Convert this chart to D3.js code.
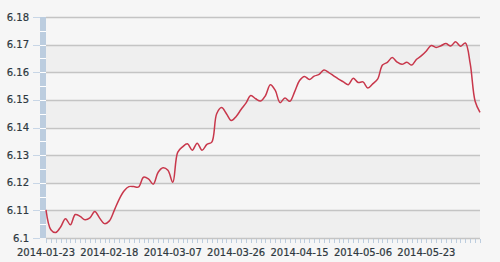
<!DOCTYPE html>
<html>
<head>
<meta charset="utf-8">
<script src="https://cdn.jsdelivr.net/npm/d3@7/dist/d3.min.js"></script>
<style>
  html, body { margin: 0; padding: 0; background: #f6f6f6; }
  svg { display: block; font-family: "DejaVu Sans", Verdana, sans-serif; }
</style>
</head>
<body>
<div id="chart"></div>
<script>
// trading days shown on the chart
const dates = [
  "2014-01-23","2014-01-24","2014-01-27","2014-01-28","2014-01-29","2014-01-30",
  "2014-02-07","2014-02-10","2014-02-11","2014-02-12","2014-02-13","2014-02-14","2014-02-17","2014-02-18",
  "2014-02-19","2014-02-20","2014-02-21","2014-02-24","2014-02-25","2014-02-26","2014-02-27","2014-02-28",
  "2014-03-03","2014-03-04","2014-03-05","2014-03-06","2014-03-07",
  "2014-03-10","2014-03-11","2014-03-12","2014-03-13","2014-03-14","2014-03-17","2014-03-18","2014-03-19",
  "2014-03-20","2014-03-21","2014-03-24","2014-03-25","2014-03-26",
  "2014-03-27","2014-03-28","2014-03-31","2014-04-01","2014-04-02","2014-04-03","2014-04-04","2014-04-08",
  "2014-04-09","2014-04-10","2014-04-11","2014-04-14","2014-04-15",
  "2014-04-16","2014-04-17","2014-04-18","2014-04-21","2014-04-22","2014-04-23","2014-04-24","2014-04-25",
  "2014-04-28","2014-04-29","2014-04-30","2014-05-05","2014-05-06",
  "2014-05-07","2014-05-08","2014-05-09","2014-05-12","2014-05-13","2014-05-14","2014-05-15","2014-05-16",
  "2014-05-19","2014-05-20","2014-05-21","2014-05-22","2014-05-23",
  "2014-05-26","2014-05-27","2014-05-28","2014-05-29","2014-05-30","2014-06-03","2014-06-04","2014-06-05",
  "2014-06-06","2014-06-09","2014-06-10"
];

const rates = [
  6.1102, 6.1030, 6.1020, 6.1040, 6.1070, 6.1048, 6.1085, 6.1078, 6.1066, 6.1073,
  6.1096, 6.1072, 6.1052, 6.1062, 6.1100, 6.1140, 6.1170, 6.1186, 6.1186, 6.1185,
  6.1220, 6.1214, 6.1195, 6.1238, 6.1254, 6.1245, 6.1202, 6.1310, 6.1330, 6.1341,
  6.1318, 6.1343, 6.1318, 6.1339, 6.1347, 6.1450, 6.1472, 6.1450, 6.1425, 6.1440,
  6.1465, 6.1488, 6.1516, 6.1504, 6.1496, 6.1515, 6.1555, 6.1535, 6.1490, 6.1507,
  6.1495, 6.1530, 6.1570, 6.1585, 6.1574, 6.1586, 6.1592, 6.1608, 6.1599, 6.1587,
  6.1575, 6.1565, 6.1555, 6.1578, 6.1563, 6.1565, 6.1543, 6.1558, 6.1575, 6.1626,
  6.1636, 6.1653, 6.1637, 6.1629, 6.1636, 6.1626, 6.1647, 6.1660, 6.1677, 6.1697,
  6.1690, 6.1696, 6.1704, 6.1695, 6.1710, 6.1694, 6.1706, 6.1630, 6.1495, 6.1455
];

const yTicks = [6.1, 6.11, 6.12, 6.13, 6.14, 6.15, 6.16, 6.17, 6.18];
const xLabels = ["2014-01-23","2014-02-18","2014-03-07","2014-03-26","2014-04-15","2014-05-06","2014-05-23"];

const W = 500, H = 262;
const plotLeft = 46, plotRight = 480, plotTop = 17, plotBottom = 238;

const svg = d3.select("#chart").append("svg")
  .attr("width", W)
  .attr("height", H);

svg.append("rect").attr("width", W).attr("height", H).attr("fill", "#f6f6f6");

const x = d3.scalePoint()
  .domain(dates)
  .range([plotLeft, plotRight]);

const y = d3.scaleLinear()
  .domain([6.1, 6.18])
  .range([plotBottom, plotTop]);

// alternating bands
for (let i = 0; i < yTicks.length - 1; i++) {
  svg.append("rect")
    .attr("x", plotLeft)
    .attr("y", y(yTicks[i + 1]))
    .attr("width", plotRight - plotLeft)
    .attr("height", y(yTicks[i]) - y(yTicks[i + 1]))
    .attr("fill", i % 2 === 0 ? "#efefef" : "#f6f6f6");
}

// grid lines
svg.append("g")
  .selectAll("line")
  .data(yTicks)
  .join("line")
  .attr("x1", plotLeft)
  .attr("x2", plotRight)
  .attr("y1", d => Math.round(y(d)) + 0.5)
  .attr("y2", d => Math.round(y(d)) + 0.5)
  .attr("stroke", "#c4c4c4")
  .attr("stroke-width", 1.5);

// left blue bar, split every half step
const halfTicks = d3.range(0, 17).map(i => 6.1 + i * 0.005);
svg.append("rect")
  .attr("x", 40).attr("y", plotTop)
  .attr("width", 6).attr("height", plotBottom - plotTop)
  .attr("fill", "#bccddf");
svg.append("g")
  .selectAll("line")
  .data(halfTicks.slice(1, -1))
  .join("line")
  .attr("x1", 40).attr("x2", 46)
  .attr("y1", d => Math.round(y(d)) + 0.5)
  .attr("y2", d => Math.round(y(d)) + 0.5)
  .attr("stroke", "#ffffff")
  .attr("stroke-width", 1);

// left ticks
svg.append("g")
  .selectAll("line")
  .data(yTicks)
  .join("line")
  .attr("x1", 33).attr("x2", 40)
  .attr("y1", d => Math.round(y(d)) + 0.5)
  .attr("y2", d => Math.round(y(d)) + 0.5)
  .attr("stroke", "#c8d6e6")
  .attr("stroke-width", 1);

// y labels
svg.append("g")
  .selectAll("text")
  .data(yTicks)
  .join("text")
  .attr("x", 29)
  .attr("y", d => y(d))
  .attr("dy", "0.35em")
  .attr("text-anchor", "end")
  .attr("font-size", 10)
  .attr("fill", "#2e3840")
  .attr("stroke", "#2e3840")
  .attr("stroke-width", 0.2)
  .text(d => d3.format(".2~f")(d));

// bottom minor ticks, one per trading day
svg.append("g")
  .selectAll("line")
  .data(dates)
  .join("line")
  .attr("x1", d => Math.round(x(d)) + 0.5)
  .attr("x2", d => Math.round(x(d)) + 0.5)
  .attr("y1", plotBottom + 1)
  .attr("y2", plotBottom + 5)
  .attr("stroke", "#bccddf")
  .attr("stroke-width", 1);

// x labels
svg.append("g")
  .selectAll("text")
  .data(xLabels)
  .join("text")
  .attr("x", d => x(d))
  .attr("y", 256)
  .attr("text-anchor", "middle")
  .attr("font-size", 10)
  .attr("fill", "#2e3840")
  .attr("stroke", "#2e3840")
  .attr("stroke-width", 0.2)
  .text(d => d);

// rate line
const line = d3.line()
  .x((d, i) => x(dates[i]))
  .y(d => y(d))
  .curve(d3.curveCatmullRom.alpha(0.5));

svg.append("path")
  .datum(rates)
  .attr("fill", "none")
  .attr("stroke", "#c8374b")
  .attr("stroke-width", 1.5)
  .attr("d", line);
</script>
</body>
</html>
